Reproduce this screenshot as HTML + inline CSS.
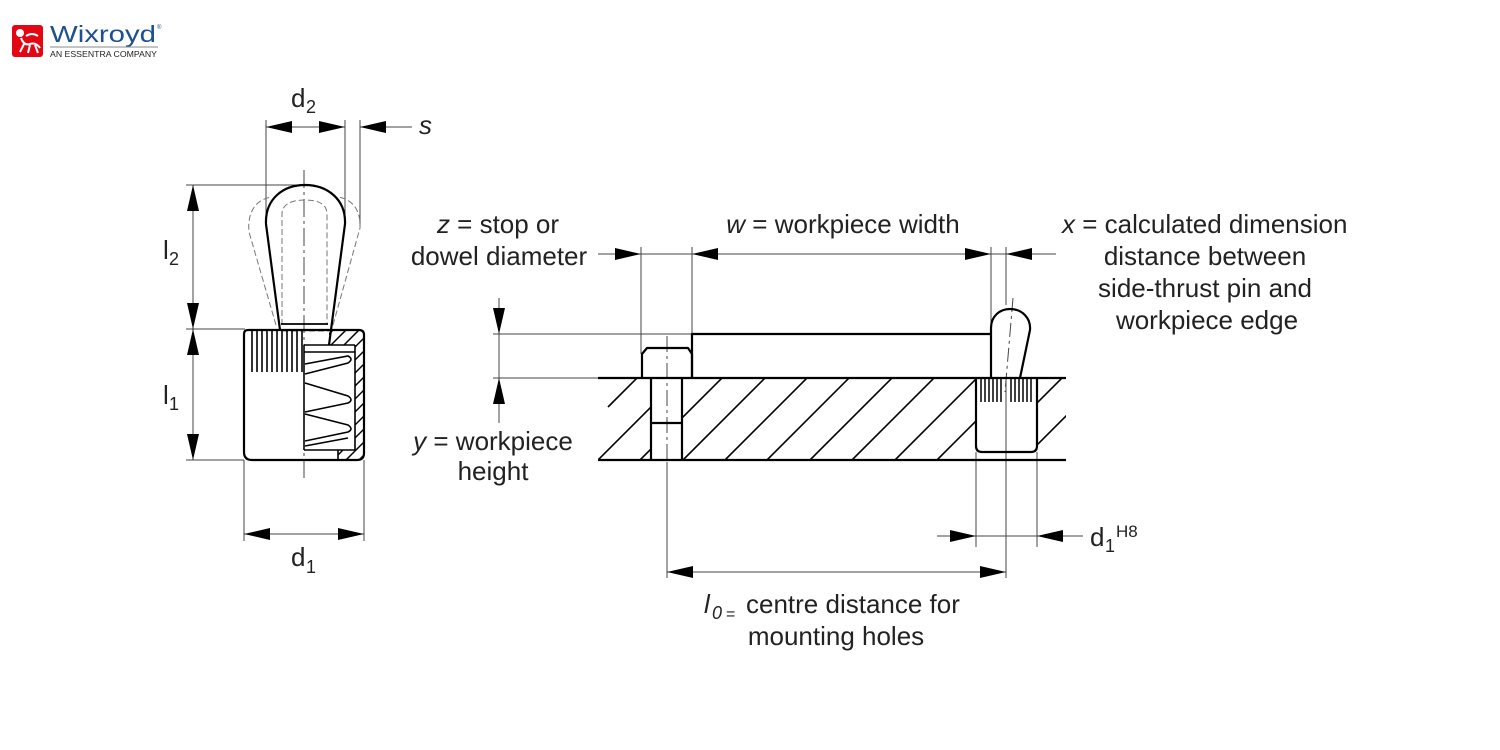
<!DOCTYPE html>
<html><head><meta charset="utf-8"><style>
html,body{margin:0;padding:0;background:#fff;}
svg{display:block}
text{font-family:"Liberation Sans",Arial,sans-serif;fill:#222}
</style></head><body>
<svg width="1500" height="750" viewBox="0 0 1500 750" xmlns="http://www.w3.org/2000/svg">
<defs>
<clipPath id="plate"><path clip-rule="evenodd" d="M598,378 H1066 V460 H598 Z M651,378 V460 H682 V378 Z M976,378 V460 H1037 V378 Z"/></clipPath>
<clipPath id="bodyh"><path d="M329,331 H360 Q363,331 363,335 V453 Q363,459 357,459 H338 V450 H355 V345 H329 Z"/></clipPath>
</defs>

<!-- LOGO -->
<rect x="12" y="25" width="31" height="32" rx="3" fill="#e30613"/>
<circle cx="20" cy="33" r="4" fill="#fff"/>
<path d="M21,38 Q24,46 30,44 Q36,42 40,48 M24,44 L20,52 M30,45 L28,53 M35,45 L38,53 M26,36 Q32,32 38,36" stroke="#fff" stroke-width="2" fill="none"/>
<text x="50" y="42" font-size="23" fill="#1d4f91" style="fill:#1d4f91" textLength="106" lengthAdjust="spacingAndGlyphs">Wixroyd</text>
<text x="157" y="29" font-size="6" style="fill:#1d4f91">®</text>
<line x1="50" y1="47" x2="158" y2="47" stroke="#888" stroke-width="1"/>
<text x="50" y="57" font-size="8.5" textLength="107" lengthAdjust="spacingAndGlyphs">AN ESSENTRA COMPANY</text>

<!-- LEFT COMPONENT: thin dimension lines -->
<g stroke="#444" stroke-width="1" fill="none">
  <line x1="266" y1="120" x2="266" y2="222"/>
  <line x1="345" y1="120" x2="345" y2="222"/>
  <line x1="360" y1="120" x2="360" y2="228"/>
  <line x1="266" y1="127" x2="345" y2="127"/>
  <line x1="360" y1="127" x2="412" y2="127"/>
  <line x1="186" y1="185" x2="304" y2="185"/>
  <line x1="186" y1="329" x2="245" y2="329"/>
  <line x1="193" y1="185" x2="193" y2="460"/>
  <line x1="186" y1="460" x2="244" y2="460"/>
  <line x1="244" y1="460" x2="244" y2="541"/>
  <line x1="364" y1="460" x2="364" y2="541"/>
  <line x1="244" y1="534" x2="364" y2="534"/>
  <line x1="304" y1="170" x2="304" y2="482" stroke-dasharray="18 4 3 4"/>
</g>
<g fill="#000">
  <polygon points="266,127 292,121 292,133"/>
  <polygon points="345,127 319,121 319,133"/>
  <polygon points="360,127 386,121 386,133"/>
  <polygon points="193,185 187,211 199,211"/>
  <polygon points="193,329 187,303 199,303"/>
  <polygon points="193,329 187,355 199,355"/>
  <polygon points="193,460 187,434 199,434"/>
  <polygon points="244,534 270,528 270,540"/>
  <polygon points="364,534 338,528 338,540"/>
</g>

<!-- knob dashed ghost outlines -->
<g stroke="#777" stroke-width="1" fill="none" stroke-dasharray="6 3">
  <path d="M276,325 L249,232 C247,212 256,199 272,197"/>
  <path d="M333,325 L360,228 C361,210 352,199 338,197"/>
  <path d="M282,325 L282,214 C282,205 290,200 305,200 C320,200 327,205 327,214 L327,325"/>
  <line x1="282" y1="331" x2="329" y2="331"/>
</g>
<!-- knob solid -->
<g stroke="#000" stroke-width="2.2" fill="none" stroke-linejoin="round">
  <path d="M280,330 L266,224 C265,199 283,185 305,185 C327,185 346,199 345,224 L329,345"/>
  <line x1="281" y1="324" x2="328" y2="324" stroke-width="1.8"/>
</g>

<!-- body -->
<g clip-path="url(#bodyh)" stroke="#000" stroke-width="1.5">
  <line x1="180" y1="470" x2="330" y2="320"/><line x1="193" y1="470" x2="343" y2="320"/>
  <line x1="206" y1="470" x2="356" y2="320"/><line x1="219" y1="470" x2="369" y2="320"/>
  <line x1="232" y1="470" x2="382" y2="320"/><line x1="245" y1="470" x2="395" y2="320"/>
  <line x1="258" y1="470" x2="408" y2="320"/><line x1="271" y1="470" x2="421" y2="320"/>
  <line x1="284" y1="470" x2="434" y2="320"/><line x1="297" y1="470" x2="447" y2="320"/>
  <line x1="310" y1="470" x2="460" y2="320"/><line x1="323" y1="470" x2="473" y2="320"/>
  <line x1="336" y1="470" x2="486" y2="320"/><line x1="349" y1="470" x2="499" y2="320"/>
  <line x1="362" y1="470" x2="512" y2="320"/><line x1="375" y1="470" x2="525" y2="320"/>
</g>
<g stroke="#000" fill="none">
  <path d="M248,330 L359,330 Q364,330 364,335 L364,453 Q364,460 357,460 L252,460 Q244,460 244,452 L244,334 Q244,330 248,330 Z" stroke-width="2.2"/>
  <g stroke-width="1.6">
    <line x1="252" y1="331" x2="252" y2="372"/><line x1="257" y1="331" x2="257" y2="372"/>
    <line x1="262" y1="331" x2="262" y2="372"/><line x1="267" y1="331" x2="267" y2="372"/>
    <line x1="272" y1="331" x2="272" y2="372"/><line x1="277" y1="331" x2="277" y2="372"/>
    <line x1="282" y1="331" x2="282" y2="372"/><line x1="287" y1="331" x2="287" y2="372"/>
    <line x1="292" y1="331" x2="292" y2="372"/><line x1="297" y1="331" x2="297" y2="372"/>
    <line x1="302" y1="331" x2="302" y2="372"/>
  </g>
  <g stroke-width="1.6">
    <line x1="304" y1="345" x2="304" y2="450"/>
    <line x1="304" y1="345" x2="355" y2="345"/>
    <line x1="304" y1="352" x2="355" y2="352"/>
    <line x1="355" y1="345" x2="355" y2="450"/>
    <line x1="304" y1="450" x2="355" y2="450"/>
    <line x1="338" y1="450" x2="338" y2="460"/>
    <path d="M305,364 L348,356 Q354,359 348,363 L305,374"/>
    <path d="M305,383 L348,396 Q354,400 348,403 L305,412"/>
    <path d="M305,414 L348,425 Q354,429 348,432 L305,441"/>
    <path d="M305,446 L348,438"/>
  </g>
</g>

<!-- MIDDLE DIAGRAM thin lines -->
<g stroke="#444" stroke-width="1" fill="none">
  <line x1="598" y1="254" x2="1056" y2="254"/>
  <line x1="641" y1="247" x2="641" y2="354"/>
  <line x1="692" y1="247" x2="692" y2="334"/>
  <line x1="991" y1="247" x2="991" y2="325"/>
  <line x1="1006" y1="247" x2="1006" y2="305"/>
  <line x1="1006" y1="378" x2="1006" y2="578"/>
  <line x1="493" y1="334" x2="692" y2="334"/>
  <line x1="493" y1="378" x2="598" y2="378"/>
  <line x1="499" y1="298" x2="499" y2="423"/>
  <line x1="667" y1="336" x2="667" y2="460" stroke-dasharray="16 4 3 4"/>
  <line x1="667" y1="462" x2="667" y2="578"/>
  <line x1="976" y1="452" x2="976" y2="547"/>
  <line x1="1037" y1="452" x2="1037" y2="547"/>
  <line x1="937" y1="536" x2="1083" y2="536"/>
  <line x1="667" y1="572" x2="1006" y2="572"/>
  <line x1="1013" y1="298" x2="1005" y2="392" stroke-dasharray="14 4 3 4"/>
</g>
<g fill="#000">
  <polygon points="641,254 615,248 615,260"/>
  <polygon points="692,254 718,248 718,260"/>
  <polygon points="991,254 965,248 965,260"/>
  <polygon points="1006,254 1032,248 1032,260"/>
  <polygon points="499,334 493,308 505,308"/>
  <polygon points="499,378 493,404 505,404"/>
  <polygon points="976,536 950,530 950,542"/>
  <polygon points="1037,536 1063,530 1063,542"/>
  <polygon points="667,572 693,566 693,578"/>
  <polygon points="1006,572 980,566 980,578"/>
</g>

<!-- hatch base plate -->
<g stroke="#000" stroke-width="1.6" clip-path="url(#plate)">
  <line x1="637" y1="378" x2="608" y2="407"/>
  <line x1="680" y1="378" x2="598" y2="460"/>
  <line x1="722" y1="378" x2="640" y2="460"/>
  <line x1="765" y1="378" x2="683" y2="460"/>
  <line x1="807" y1="378" x2="725" y2="460"/>
  <line x1="849" y1="378" x2="767" y2="460"/>
  <line x1="892" y1="378" x2="810" y2="460"/>
  <line x1="934" y1="378" x2="852" y2="460"/>
  <line x1="977" y1="378" x2="895" y2="460"/>
  <line x1="1019" y1="378" x2="937" y2="460"/>
  <line x1="1062" y1="378" x2="980" y2="460"/>
  <line x1="1104" y1="378" x2="1022" y2="460"/>
</g>

<!-- thick outlines middle -->
<g stroke="#000" stroke-width="2.2" fill="none" stroke-linejoin="round">
  <line x1="598" y1="378" x2="1066" y2="378"/>
  <line x1="598" y1="460" x2="1066" y2="460"/>
  <path d="M692,378 L692,334 L991,334"/>
  <path d="M642,378 L642,354 L647,348 L688,348 L692,354 L692,378"/>
  <line x1="651" y1="378" x2="651" y2="460"/>
  <line x1="682" y1="378" x2="682" y2="460"/>
  <line x1="651" y1="423" x2="682" y2="423"/>
  <path d="M991,378 L991,328 C991,316 1000,309 1010,309 C1022,309 1031,318 1030,330 L1020,378"/>
  <path d="M976,378 L976,446 Q976,452 982,452 L1031,452 Q1037,452 1037,446 L1037,378"/>
</g>
<g stroke="#000" stroke-width="1.5">
  <line x1="981" y1="379" x2="981" y2="402"/><line x1="985" y1="379" x2="985" y2="402"/>
  <line x1="989" y1="379" x2="989" y2="402"/><line x1="993" y1="379" x2="993" y2="402"/>
  <line x1="997" y1="379" x2="997" y2="402"/><line x1="1001" y1="379" x2="1001" y2="402"/>
  <line x1="1011" y1="379" x2="1011" y2="402"/><line x1="1015" y1="379" x2="1015" y2="402"/>
  <line x1="1019" y1="379" x2="1019" y2="402"/><line x1="1023" y1="379" x2="1023" y2="402"/>
  <line x1="1027" y1="379" x2="1027" y2="402"/><line x1="1031" y1="379" x2="1031" y2="402"/>
</g>

<!-- LABELS -->
<text x="291" y="107" font-size="26">d</text><text x="306" y="113" font-size="18">2</text>
<text x="419" y="134" font-size="26" font-style="italic">s</text>
<text x="163" y="259" font-size="26">l</text><text x="169" y="265" font-size="18">2</text>
<text x="163" y="404" font-size="26">l</text><text x="169" y="410" font-size="18">1</text>
<text x="291" y="566" font-size="26">d</text><text x="306" y="573" font-size="18">1</text>

<text x="498" y="233" font-size="26" text-anchor="middle"><tspan font-style="italic">z</tspan> = stop or</text>
<text x="499" y="265" font-size="26" text-anchor="middle">dowel diameter</text>
<text x="843" y="233" font-size="26" text-anchor="middle"><tspan font-style="italic">w</tspan> = workpiece width</text>
<text x="1062" y="233" font-size="26"><tspan font-style="italic">x</tspan> = calculated dimension</text>
<text x="1205" y="265" font-size="26" text-anchor="middle">distance between</text>
<text x="1205" y="297" font-size="26" text-anchor="middle">side-thrust pin and</text>
<text x="1207" y="329" font-size="26" text-anchor="middle">workpiece edge</text>
<text x="493" y="450" font-size="26" text-anchor="middle"><tspan font-style="italic">y</tspan> = workpiece</text>
<text x="493" y="480" font-size="26" text-anchor="middle">height</text>

<text x="1090" y="546" font-size="26">d</text><text x="1105" y="552" font-size="18">1</text><text x="1116" y="537" font-size="17">H8</text>

<text x="704" y="613" font-size="26" font-style="italic">l</text>
<text x="712" y="619" font-size="18" font-style="italic">0</text>
<text x="726" y="619" font-size="16">=</text>
<text x="746" y="613" font-size="26">centre distance for</text>
<text x="836" y="645" font-size="26" text-anchor="middle">mounting holes</text>
</svg>
</body></html>
